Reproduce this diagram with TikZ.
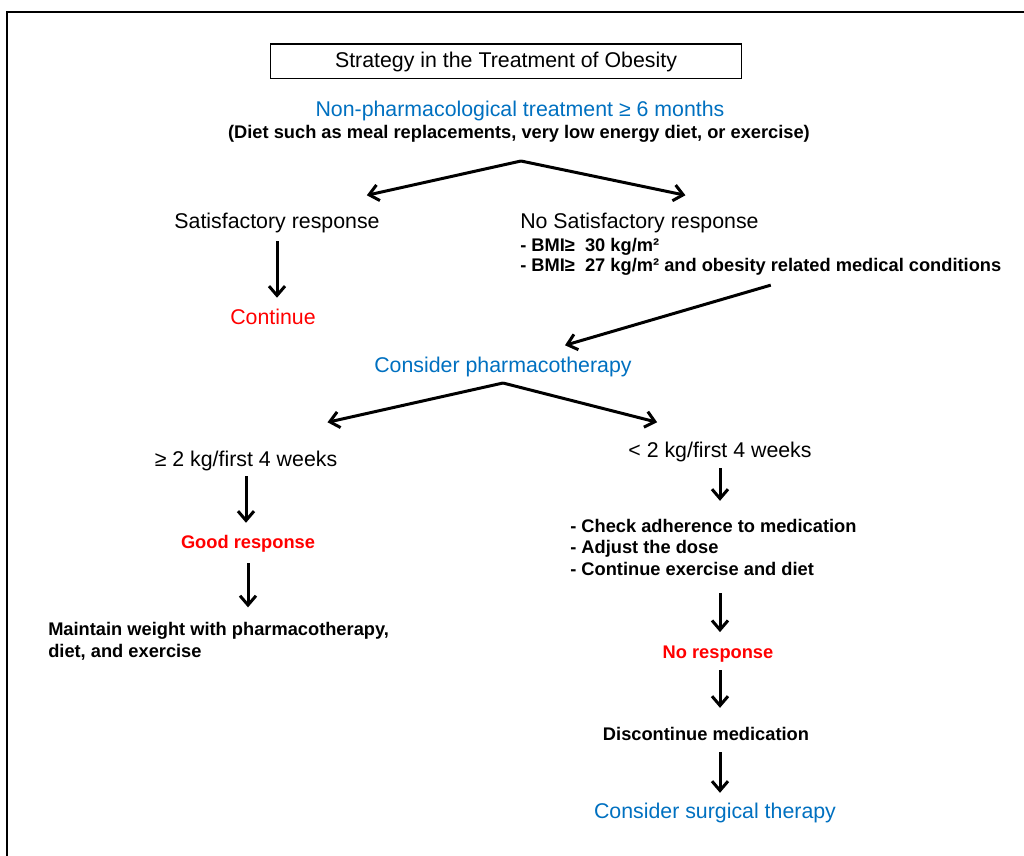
\documentclass[tikz,border=0pt]{standalone}
\usepackage{fontspec}
\setmainfont{Liberation Sans}
\usetikzlibrary{arrows.meta,calc}
\definecolor{myblue}{RGB}{0,112,192}
\definecolor{myred}{RGB}{255,0,0}

\tikzset{
  bigtext/.style={inner sep=0pt,anchor=base,font=\fontsize{16}{19}\selectfont},
  smalltext/.style={inner sep=0pt,anchor=base,font=\fontsize{13.7}{16.1}\selectfont\bfseries},
  flow/.style={line width=2.25pt,-{Straight Barb[length=7pt,width=12pt]}},
}

\begin{document}
\begin{tikzpicture}[x=0.75pt,y=-0.75pt]
  \useasboundingbox (0,0) rectangle (1024,856);
  \draw[line width=1.5pt] (7,860) -- (7,12) -- (1030,12);
  \node[draw,line width=1pt,inner sep=0pt,minimum width=353pt,minimum height=26pt,
        font=\fontsize{16}{19}\selectfont] (title) at (506,61.5) {Strategy in the Treatment of Obesity};
  \node[bigtext,text=myblue] (nonpharm) at (520,116) {Non-pharmacological treatment ≥ 6 months};
  \node[smalltext] (diet) at (519,138) {(Diet such as meal replacements, very low energy diet, or exercise)};
  \coordinate (fork1) at ($(diet.base)+(2,23)$);
  % first split
  \node[bigtext] (satis) at (277,228) {Satisfactory response};
  \node[bigtext,anchor=base west] (nosatis) at (520,228) {No Satisfactory response};
  \node[smalltext,anchor=base west] (bmi1) at (520,251) {- BMI≥\ \ 30 kg/m²};
  \node[smalltext,anchor=base west] (bmi2) at (520,271) {- BMI≥\ \ 27 kg/m² and obesity related medical conditions};
  \node[bigtext,text=myred] (cont) at (273,324) {Continue};
  \draw[flow] (fork1) -- ($(satis.north east)+(-13,-17)$);
  \draw[flow] (fork1) -- ($(nosatis.north)+(46,-17)$);
  \draw[flow,shorten <=6.4pt,shorten >=7.9pt] (satis.south) -- (satis.south |- cont.north);
  % pharmacotherapy
  \node[bigtext,text=myblue] (pharma) at (503,372) {Consider pharmacotherapy};
  \draw[flow] ($(bmi2.south)+(10,10)$) -- ($(pharma.north)+(62,-11)$);
  \coordinate (fork2) at ($(pharma.base)+(0,11)$);
  \node[bigtext] (ge2) at (246,466) {≥ 2 kg/first 4 weeks};
  \node[bigtext] (lt2) at (720,457) {< 2 kg/first 4 weeks};
  \draw[flow] (fork2) -- ($(ge2.north east)+(-10,-28)$);
  \draw[flow] (fork2) -- ($(lt2.north west)+(29,-19)$);
  % left branch
  \node[smalltext,text=myred] (good) at (248,548) {Good response};
  \node[smalltext,anchor=base west,align=left] (maintain) at (48,657)
    {Maintain weight with pharmacotherapy,\\diet, and exercise};
  \draw[flow,shorten <=4pt,shorten >=8.8pt] (ge2.south) -- (ge2.south |- good.north);
  \draw[flow,shorten <=8.4pt,shorten >=11pt] (good.south) -- (good.south |- maintain.north);
  % right branch
  \node[smalltext,anchor=base west,align=left] (check) at (570,575)
    {- Check adherence to medication\\- Adjust the dose\\- Continue exercise and diet};
  \node[smalltext,text=myred] (noresp) at (718,658) {No response};
  \node[smalltext] (disc) at (706,740) {Discontinue medication};
  \node[bigtext,text=myblue] (surg) at (715,818) {Consider surgical therapy};
  \draw[flow,shorten <=4.9pt,shorten >=13.3pt] (lt2.south) -- (lt2.south |- check.north);
  \draw[flow,shorten <=13.5pt,shorten >=9.8pt] (check.south -| lt2.south) -- (noresp.north -| lt2.south);
  \draw[flow,shorten <=6.2pt,shorten >=14pt] (noresp.south -| lt2.south) -- (disc.north -| lt2.south);
  \draw[flow,shorten <=9pt,shorten >=7.1pt] (disc.south -| lt2.south) -- (surg.north -| lt2.south);
\end{tikzpicture}
\end{document}
